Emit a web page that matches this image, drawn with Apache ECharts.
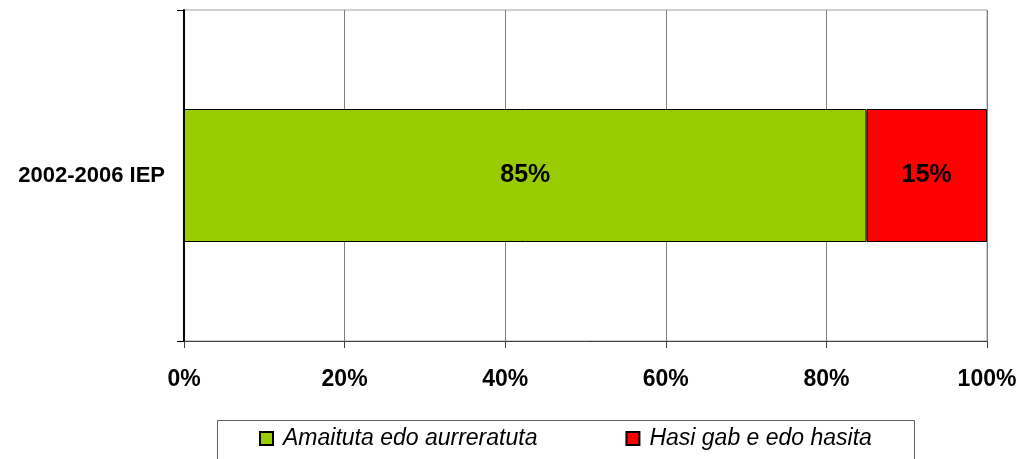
<!DOCTYPE html>
<html><head><meta charset="utf-8">
<script src="https://cdn.jsdelivr.net/npm/echarts@6/dist/echarts.min.js"></script>
<style>html,body{margin:0;padding:0;background:#fff}#c{width:1018px;height:459px}</style>
</head><body><div id="c"></div>
<script>
const categories = ['2002-2006 IEP'];
const seriesNames = ['Amaituta edo aurreratuta', 'Hasi gab e edo hasita'];
const completed = [85];
const notCompleted = [15];
const colors = ['#99CC00', '#FF0000'];

const chart = echarts.init(document.getElementById('c'));
const font = 'Liberation Sans, Arial, sans-serif';
const lbl = {show:true, position:'inside', color:'#000', fontFamily:font, fontWeight:'bold', fontSize:25, formatter: p => p.value + '%'};
chart.setOption({
  animation:false,
  grid:{left:184, right:31, top:10, bottom:118, containLabel:false, outerBoundsMode:'none', show:true, borderColor:'#a0a0a0', borderWidth:1},
  xAxis:{type:'value', min:0, max:100, interval:20,
    axisLine:{show:true, lineStyle:{color:'#404040', width:1}},
    axisTick:{show:true, length:7, lineStyle:{color:'#404040'}},
    splitLine:{show:true, lineStyle:{color:'#808080', width:1}},
    axisLabel:{formatter:'{value}%', color:'#000', fontFamily:font, fontWeight:'bold', fontSize:23, margin:27}},
  yAxis:{type:'category', data:categories,
    axisLine:{show:true, lineStyle:{color:'#000', width:2}},
    axisTick:{show:true, length:7, lineStyle:{color:'#000'}},
    axisLabel:{color:'#000', fontFamily:font, fontWeight:'bold', fontSize:22, margin:19}},
  legend:{left:254, top:422, itemWidth:13, itemHeight:13, itemGap:88, icon:'rect',
    textStyle:{color:'#000', fontFamily:font, fontStyle:'italic', fontSize:23, padding:[0,0,0,5]},
    data:seriesNames},
  graphic:[{type:'rect', left:215, top:418, shape:{width:697, height:60}, style:{fill:'none', stroke:'#606060', lineWidth:1}, z:-1}],
  series:[
    {name:seriesNames[0], type:'bar', stack:'s', data:completed, barWidth:133, itemStyle:{color:colors[0], borderColor:'#000', borderWidth:1}, label:lbl},
    {name:seriesNames[1], type:'bar', stack:'s', data:notCompleted, barWidth:133, itemStyle:{color:colors[1], borderColor:'#000', borderWidth:1}, label:lbl}
  ]
});
</script></body></html>
